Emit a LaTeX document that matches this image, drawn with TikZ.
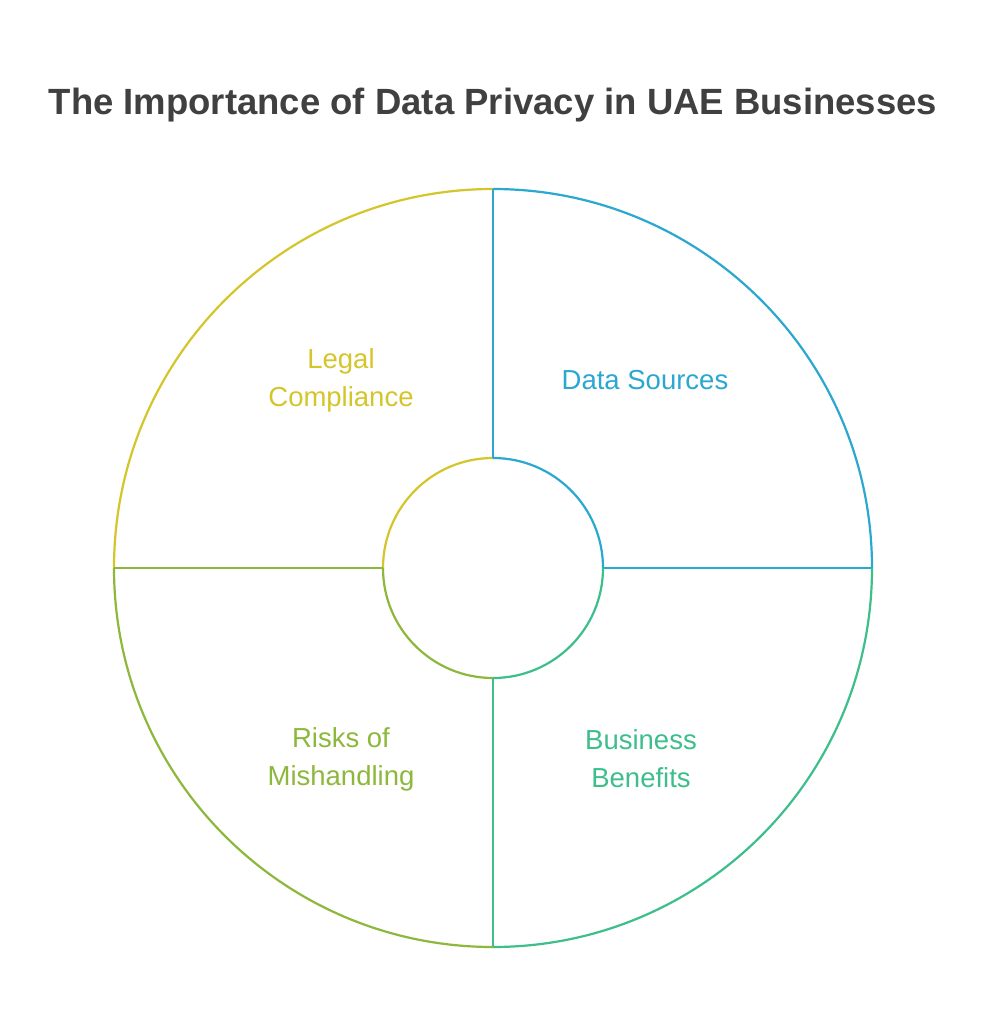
\documentclass[tikz,border=0pt]{standalone}
\usepackage{fontspec}
\setmainfont{Liberation Sans}
\definecolor{cy}{HTML}{D4C62A}
\definecolor{cb}{HTML}{2AA8D0}
\definecolor{cg}{HTML}{3DBE8B}
\definecolor{co}{HTML}{8DB83C}
\definecolor{tt}{HTML}{404040}
\tikzset{seg/.style={line width=2.2pt},lab/.style={align=center,font=\fontsize{27.5}{38}\selectfont}}
\begin{document}
\begin{tikzpicture}[x=1pt,y=-1pt]
\useasboundingbox (0,0) rectangle (986,1024);
\fill[white] (0,0) rectangle (986,1024);
\node[text=tt,font=\bfseries\fontsize{36.5}{42}\selectfont] (title) at (493,105) {The Importance of Data Privacy in UAE Businesses};
\coordinate (c) at (493,568);
% yellow
\draw[seg,cy] (114,568) arc[start angle=180,end angle=270,radius=379];
\draw[seg,cy] (383,568) arc[start angle=180,end angle=270,radius=110];
% blue
\draw[seg,cb] (493,189) arc[start angle=270,end angle=360,radius=379];
\draw[seg,cb] (493,458) arc[start angle=270,end angle=360,radius=110];
\draw[seg,cb] (493,189) -- (493,458);
\draw[seg,cb] (603,568) -- (872,568);
% green
\draw[seg,cg] (872,568) arc[start angle=0,end angle=90,radius=379];
\draw[seg,cg] (603,568) arc[start angle=0,end angle=90,radius=110];
\draw[seg,cg] (493,678) -- (493,947);
% olive
\draw[seg,co] (493,947) arc[start angle=90,end angle=180,radius=379];
\draw[seg,co] (493,678) arc[start angle=90,end angle=180,radius=110];
\draw[seg,co] (114,568) -- (383,568);
\node[lab,text=cy] (lc) at (341,380) {Legal\\Compliance};
\node[lab,text=cb] (ds) at (645,380) {Data Sources};
\node[lab,text=cg] (bb) at (641,759) {Business\\Benefits};
\node[lab,text=co] (rm) at (341,759) {Risks of\\Mishandling};
\end{tikzpicture}
\end{document}
